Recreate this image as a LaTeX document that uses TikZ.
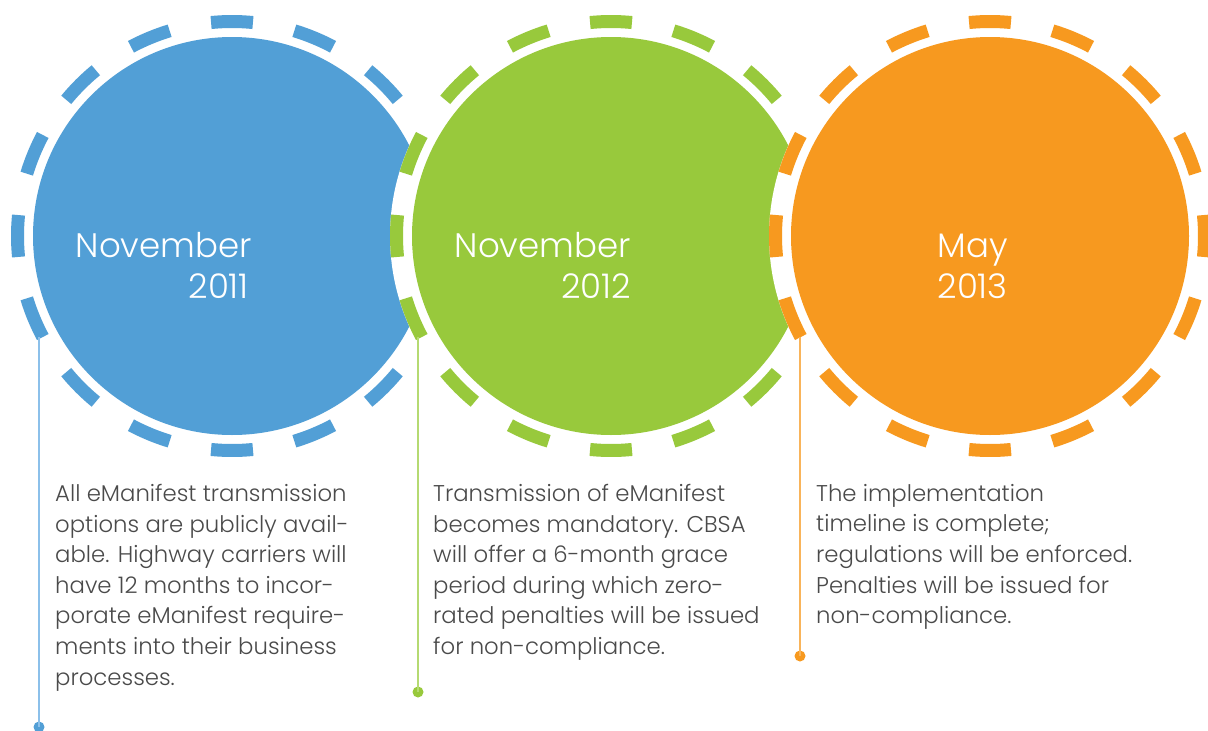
\documentclass[tikz,border=0pt]{standalone}
\usepackage{fontspec}
\setmainfont{Poppins}[UprightFont={* Light}]
\definecolor{cblue}{HTML}{529FD6}
\definecolor{cgreen}{HTML}{98C93C}
\definecolor{corange}{HTML}{F7991F}
\definecolor{lblue}{HTML}{8CC0EA}
\definecolor{lgreen}{HTML}{B5DA72}
\definecolor{lorange}{HTML}{F9B45A}
\definecolor{bodytext}{HTML}{4A4A4A}
\begin{document}
\begin{tikzpicture}[x=1pt,y=-1pt,
  ringdash/.style={line width=13pt},
  datetext/.style={text=white,font=\fontsize{34}{40}\selectfont,anchor=base east,inner sep=0pt},
  bodytxt/.style={text=bodytext,font=\fontsize{22.8}{30.6}\selectfont,anchor=north west,inner sep=0pt,align=left},
  stem/.style={line width=1.3pt},
  dotend/.style={circle,inner sep=0pt,minimum size=11pt}
]
\useasboundingbox (0,0) rectangle (1208,731);
\fill[white] (0,0) rectangle (1208,731);
% --- circles
\foreach \cx/\col in {232/cblue,611/cgreen,990/corange}{
  \fill[white] (\cx,236) circle[radius=221];
  \foreach \k in {0,...,15}{
    \draw[ringdash,\col] (\cx,236) ++(\k*22.5-5.6:214.5) arc[start angle=\k*22.5-5.6,end angle=\k*22.5+5.6,radius=214.5];
  }
  \fill[\col] (\cx,236) circle[radius=199];
}
\node[circle,minimum size=398pt,inner sep=0pt] (c1) at (232,236) {};
\node[circle,minimum size=398pt,inner sep=0pt] (c2) at (611,236) {};
\node[circle,minimum size=398pt,inner sep=0pt] (c3) at (990,236) {};
% --- dates
\node[datetext] (d1a) at (252,257) {November};
\node[datetext] (d1b) at (249,298) {2011};
\node[datetext] (d2a) at (631,257) {November};
\node[datetext] (d2b) at (631,298) {2012};
\node[datetext] (d3a) at (1008,257) {May};
\node[datetext] (d3b) at (1008,298) {2013};
% --- stems
\coordinate (s1) at (39,337);
\coordinate (s2) at (418,337);
\coordinate (s3) at (800,337);
\node[dotend,fill=cblue] (e1) at (39,727) {};
\node[dotend,fill=cgreen] (e2) at (418,692) {};
\node[dotend,fill=corange] (e3) at (800,656) {};
\draw[stem,lblue] (s1) -- (e1.center);
\draw[stem,lgreen] (s2) -- (e2.center);
\draw[stem,lorange] (s3) -- (e3.center);
% --- body texts
\node[bodytxt] (t1) at (55,484) {All eManifest transmission\\options are publicly avail-\\able. Highway carriers will\\have 12 months to incor-\\porate eManifest require-\\ments into their business\\processes.};
\node[bodytxt] (t2) at (433,484) {Transmission of eManifest\\becomes mandatory. CBSA\\will offer a 6-month grace\\period during which zero-\\rated penalties will be issued\\for non-compliance.};
\node[bodytxt] (t3) at (816,484) {The implementation\\timeline is complete;\\regulations will be enforced.\\Penalties will be issued for\\non-compliance.};
\end{tikzpicture}
\end{document}
